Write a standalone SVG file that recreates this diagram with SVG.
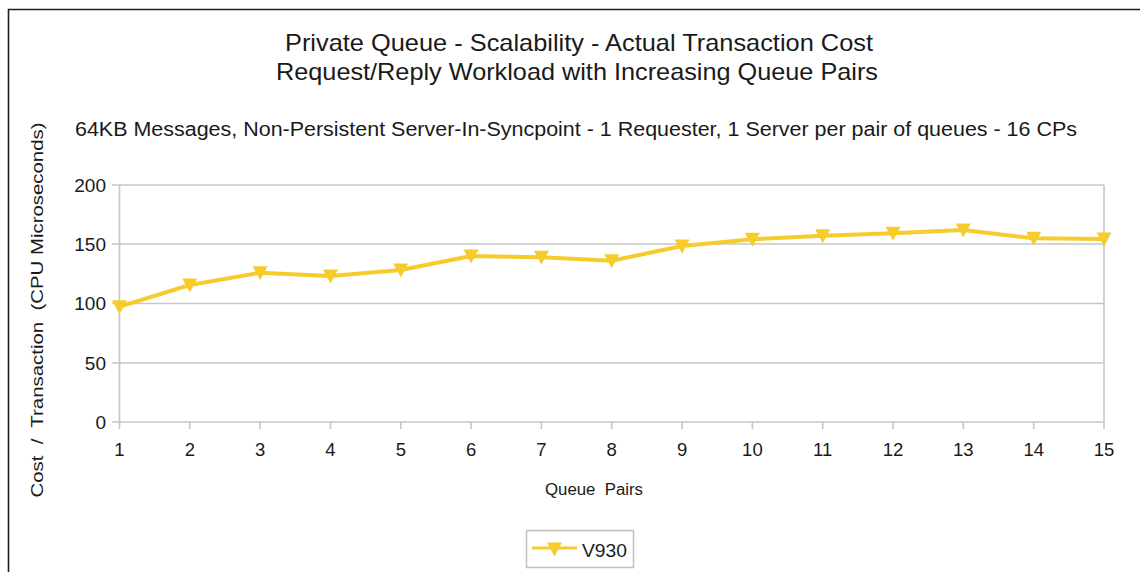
<svg xmlns="http://www.w3.org/2000/svg" xmlns:xlink="http://www.w3.org/1999/xlink" width="1140" height="572" viewBox="0 0 1140 572">
<style>
text{font-family:"Liberation Sans",Arial,sans-serif;fill:#1a1a1a}
.grid{stroke:#c6c6c6;stroke-width:1.6;fill:none}
.ylab{font-size:19px;text-anchor:end}
.xlab{font-size:18.5px;text-anchor:middle}
.series{stroke:#F6CB2C;stroke-width:4;fill:none;stroke-linejoin:round}
.mk{fill:#F6CB2C}
</style>
<defs>
<path id="tri" d="M-7.5,-6.5 L7.5,-6.5 L0,7.5 Z"/>
</defs>
<rect x="0" y="0" width="1140" height="572" fill="#ffffff"/>
<g id="frame">
<path d="M8.5,572 L8.5,9.5 L1141,9.5" fill="none" stroke="#1e1e1e" stroke-width="1.6"/>
</g>
<g id="titles">
<text x="579" y="51" font-size="24" text-anchor="middle" textLength="588" lengthAdjust="spacingAndGlyphs">Private Queue - Scalability - Actual Transaction Cost</text>
<text x="577" y="80" font-size="24" text-anchor="middle" textLength="602" lengthAdjust="spacingAndGlyphs">Request/Reply Workload with Increasing Queue Pairs</text>
<text x="576" y="136" font-size="20" text-anchor="middle" textLength="1002" lengthAdjust="spacingAndGlyphs">64KB Messages, Non-Persistent Server-In-Syncpoint - 1 Requester, 1 Server per pair of queues - 16 CPs</text>
</g>
<g id="axes">
<line class="grid" x1="112" y1="185" x2="1104" y2="185"/>
<line class="grid" x1="112" y1="244" x2="1104" y2="244"/>
<line class="grid" x1="112" y1="303.5" x2="1104" y2="303.5"/>
<line class="grid" x1="112" y1="363" x2="1104" y2="363"/>
<line class="grid" x1="112" y1="422" x2="1104" y2="422"/>
<line class="grid" x1="119.5" y1="185" x2="119.5" y2="429"/>
<line class="grid" x1="1104" y1="185" x2="1104" y2="429"/>
<path class="grid" d="M189.8,422v7M260.1,422v7M330.5,422v7M400.8,422v7M471.1,422v7M541.4,422v7M611.7,422v7M682.1,422v7M752.4,422v7M822.7,422v7M893,422v7M963.3,422v7M1033.7,422v7"/>
<text class="ylab" x="106" y="191.5">200</text>
<text class="ylab" x="106" y="250.5">150</text>
<text class="ylab" x="106" y="310">100</text>
<text class="ylab" x="106" y="369.5">50</text>
<text class="ylab" x="106" y="428.5">0</text>
<text class="xlab" x="119.5" y="456">1</text>
<text class="xlab" x="189.8" y="456">2</text>
<text class="xlab" x="260.1" y="456">3</text>
<text class="xlab" x="330.5" y="456">4</text>
<text class="xlab" x="400.8" y="456">5</text>
<text class="xlab" x="471.1" y="456">6</text>
<text class="xlab" x="541.4" y="456">7</text>
<text class="xlab" x="611.7" y="456">8</text>
<text class="xlab" x="682.1" y="456">9</text>
<text class="xlab" x="752.4" y="456">10</text>
<text class="xlab" x="822.7" y="456">11</text>
<text class="xlab" x="893" y="456">12</text>
<text class="xlab" x="963.3" y="456">13</text>
<text class="xlab" x="1033.7" y="456">14</text>
<text class="xlab" x="1104" y="456">15</text>
<text x="594" y="495" font-size="16" text-anchor="middle" textLength="98" lengthAdjust="spacingAndGlyphs" xml:space="preserve">Queue  Pairs</text>
<text transform="translate(43,310) rotate(-90)" font-size="17" text-anchor="middle" textLength="375" lengthAdjust="spacingAndGlyphs" xml:space="preserve">Cost  /  Transaction  (CPU Microseconds)</text>
</g>
<g id="series-V930">
<polyline class="series" points="119.5,306.7 189.8,285 260.1,272.7 330.5,276 400.8,270 471.1,256 541.4,257.3 611.7,260.7 682.1,246 752.4,239.3 822.7,235.7 893,233.3 963.3,230 1033.7,238.3 1104,239"/>
<g class="mk">
<use xlink:href="#tri" x="119.5" y="306.7"/>
<use xlink:href="#tri" x="189.8" y="285"/>
<use xlink:href="#tri" x="260.1" y="272.7"/>
<use xlink:href="#tri" x="330.5" y="276"/>
<use xlink:href="#tri" x="400.8" y="270"/>
<use xlink:href="#tri" x="471.1" y="256"/>
<use xlink:href="#tri" x="541.4" y="257.3"/>
<use xlink:href="#tri" x="611.7" y="260.7"/>
<use xlink:href="#tri" x="682.1" y="246"/>
<use xlink:href="#tri" x="752.4" y="239.3"/>
<use xlink:href="#tri" x="822.7" y="235.7"/>
<use xlink:href="#tri" x="893" y="233.3"/>
<use xlink:href="#tri" x="963.3" y="230"/>
<use xlink:href="#tri" x="1033.7" y="238.3"/>
<use xlink:href="#tri" x="1104" y="239"/>
</g>
</g>
<g id="legend">
<rect x="526.5" y="530.5" width="107" height="37" fill="#fff" stroke="#c0c0c0" stroke-width="1.5"/>
<line x1="532" y1="548" x2="577" y2="548" stroke="#F6CB2C" stroke-width="3"/>
<use xlink:href="#tri" x="554.5" y="549" class="mk"/>
<text x="582" y="557" font-size="18.5" textLength="45" lengthAdjust="spacingAndGlyphs">V930</text>
</g>
</svg>
